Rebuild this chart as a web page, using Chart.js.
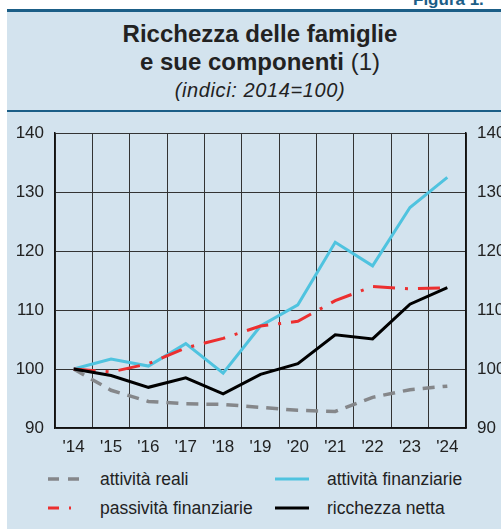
<!DOCTYPE html>
<html>
<head>
<meta charset="utf-8">
<script src="https://cdn.jsdelivr.net/npm/chart.js@4/dist/chart.umd.min.js"></script>
<style>
  html, body { margin: 0; padding: 0; }
  body {
    width: 501px; height: 529px; overflow: hidden; position: relative;
    background: #ffffff; font-family: "Liberation Sans", Arial, sans-serif; color: #222;
  }
  #figura {
    position: absolute; left: 413px; top: -9px; font-size: 17px; font-weight: bold;
    color: #1b5e87; white-space: nowrap; line-height: 17px;
  }
  #panel {
    position: absolute; left: 7px; top: 9px; width: 506px; height: 519px;
    background: #d3e3ee; border-top: 3px solid #1b5e87;
  }
  #titlebox {
    position: absolute; left: 0; top: 0; width: 506px; height: 98px;
    border-bottom: 2px solid #1b5e87;
  }
  .tline { position: absolute; left: 0; width: 506px; text-align: center; white-space: nowrap; }
  #t1 { top: 10px; font-size: 24px; line-height: 24px; font-weight: bold; }
  #t2 { top: 38px; font-size: 24px; line-height: 24px; font-weight: bold; }
  #t2 span { font-weight: normal; }
  #t3 { top: 68px; font-size: 20px; line-height: 20px; font-style: italic; letter-spacing: 0.6px; }
  #chartWrap { position: absolute; left: 7px; top: 112px; width: 520px; height: 352px; }
  #legend { position: absolute; left: 0; top: 469px; width: 501px; height: 60px; }
  .item { position: absolute; font-size: 17.5px; line-height: 20px; white-space: nowrap; }
  .item svg { position: absolute; top: 7px; }
  .item span { position: absolute; top: 0; }
</style>
</head>
<body>
<div id="figura">Figura 1.</div>
<div id="panel">
  <div id="titlebox">
    <div class="tline" id="t1">Ricchezza delle famiglie</div>
    <div class="tline" id="t2">e sue componenti <span>(1)</span></div>
    <div class="tline" id="t3">(indici: 2014=100)</div>
  </div>
</div>
<div id="chartWrap"><canvas id="chart" width="520" height="352"></canvas></div>
<div id="legend"></div>
<script>
// anni (etichette asse x)
const years = ["'14", "'15", "'16", "'17", "'18", "'19", "'20", "'21", "'22", "'23", "'24"];

// serie, indici 2014=100
const attivitaReali = [100, 96.4, 94.5, 94.1, 94.0, 93.5, 93.0, 92.8, 95.2, 96.5, 97.1];
const attivitaFinanziarie = [100, 101.7, 100.5, 104.3, 99.3, 107.3, 110.9, 121.5, 117.5, 127.4, 132.5];
const passivitaFinanziarie = [100, 99.5, 100.9, 103.6, 105.2, 107.3, 108.1, 111.6, 114.0, 113.6, 113.8];
const ricchezzaNetta = [100, 98.9, 96.9, 98.5, 95.8, 99.1, 100.9, 105.8, 105.1, 111.0, 113.8];

// asse y
const yMin = 90;
const yMax = 140;
const yStep = 10;

const tickFont = { family: "Liberation Sans", size: 17 };
const gridColor = "#333";

const datasets = [
  {
    label: "attività reali",
    data: attivitaReali,
    borderColor: "#85878a",
    borderWidth: 3.5,
    borderDash: [12, 8],
    order: 4,
    legendDash: "11 9",
    legendPos: { x: 48, y: 0 },
  },
  {
    label: "attività finanziarie",
    data: attivitaFinanziarie,
    borderColor: "#4fc3df",
    borderWidth: 3,
    borderDash: [],
    order: 3,
    legendDash: "",
    legendPos: { x: 275, y: 0 },
  },
  {
    label: "passività finanziarie",
    data: passivitaFinanziarie,
    borderColor: "#ec2f2f",
    borderWidth: 3,
    borderDash: [22, 10, 3, 10],
    order: 2,
    legendDash: "11 10 2 20",
    legendPos: { x: 48, y: 29 },
  },
  {
    label: "ricchezza netta",
    data: ricchezzaNetta,
    borderColor: "#000000",
    borderWidth: 3,
    borderDash: [],
    order: 1,
    legendDash: "",
    legendPos: { x: 275, y: 29 },
  },
];

const ctx = document.getElementById("chart").getContext("2d");
new Chart(ctx, {
  type: "line",
  data: {
    labels: years,
    datasets: datasets.map((d) => ({
      label: d.label,
      data: d.data,
      borderColor: d.borderColor,
      borderWidth: d.borderWidth,
      borderDash: d.borderDash,
      order: d.order,
      pointRadius: 0,
      tension: 0,
      fill: false,
      yAxisID: "y",
    })),
  },
  options: {
    responsive: false,
    animation: false,
    events: [],
    layout: { padding: { top: 17, left: 0, right: 0, bottom: 0 } },
    plugins: { legend: { display: false }, tooltip: { enabled: false } },
    scales: {
      x: {
        offset: true,
        grid: { offset: true, color: gridColor, lineWidth: 1, drawTicks: false },
        border: { display: true, color: "#111", width: 1.5 },
        ticks: { font: tickFont, color: "#222", padding: 9, maxRotation: 0, autoSkip: false },
        afterFit: (scale) => { scale.height = 36; },
      },
      y: {
        position: "left",
        min: yMin,
        max: yMax,
        grid: { color: gridColor, lineWidth: 1, drawTicks: false },
        border: { display: true, color: "#111", width: 1.5 },
        ticks: { stepSize: yStep, font: tickFont, color: "#222", padding: 11 },
        afterFit: (scale) => { scale.width = 48; },
      },
      y2: {
        position: "right",
        min: yMin,
        max: yMax,
        grid: { drawOnChartArea: false, drawTicks: false },
        border: { display: true, color: "#111", width: 1.5 },
        ticks: { stepSize: yStep, font: tickFont, color: "#222", padding: 11 },
        afterFit: (scale) => { scale.width = 61; },
      },
    },
  },
});

// legenda in html
const legend = document.getElementById("legend");
datasets.forEach((d) => {
  const item = document.createElement("div");
  item.className = "item";
  item.style.left = d.legendPos.x + "px";
  item.style.top = d.legendPos.y + "px";
  item.innerHTML =
    '<svg width="34" height="6"><line x1="0" y1="3" x2="34" y2="3" stroke="' +
    d.borderColor + '" stroke-width="' + d.borderWidth + '"' +
    (d.legendDash ? ' stroke-dasharray="' + d.legendDash + '"' : "") +
    ' /></svg><span style="left:52px">' + d.label + "</span>";
  legend.appendChild(item);
});
</script>
</body>
</html>
